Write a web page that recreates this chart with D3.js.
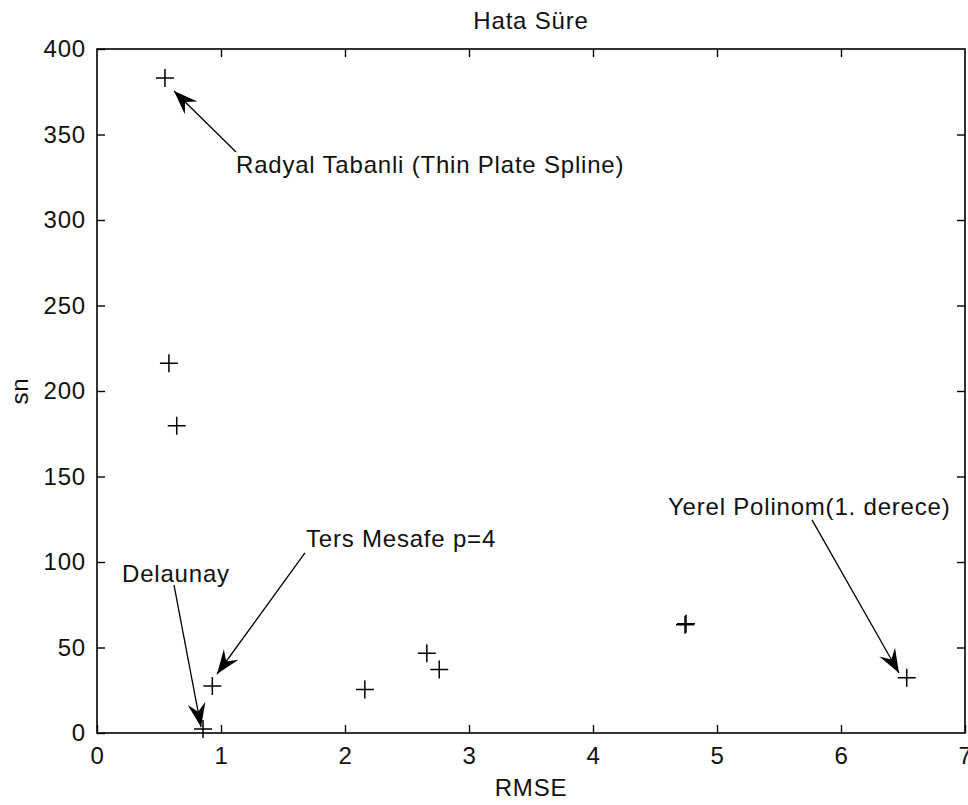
<!DOCTYPE html>
<html>
<head>
<meta charset="utf-8">
<script src="https://cdn.jsdelivr.net/npm/d3@7"></script>
<style>
  body { margin: 0; background: #fff; }
  svg text { font-family: "Liberation Sans", Arial, sans-serif; font-size: 24px; letter-spacing: 0.8px; fill: #111; }
</style>
</head>
<body>
<svg id="vis-canvas" width="968" height="805"></svg>
<script>
// data
const rmse = [0.548, 0.58, 0.643, 0.855, 0.93, 2.16, 2.66, 2.76, 4.742, 4.750, 6.53];
const sure = [383, 216.2, 179.7, 2.3, 27.5, 25.5, 46.6, 37.2, 63.3, 63.9, 32.3];

const xTicks = [0, 1, 2, 3, 4, 5, 6, 7];
const yTicks = [0, 50, 100, 150, 200, 250, 300, 350, 400];

// annotations: label, text anchor (data units), arrow start and tip (data units)
const noteLabels = ["Radyal Tabanli (Thin Plate Spline)", "Delaunay", "Ters Mesafe p=4", "Yerel Polinom(1. derece)"];
const noteText  = [[1.121, 327.5], [0.202, 88.3], [1.685, 108.8], [4.605, 127.5]];
const noteFrom  = [[1.121, 339.8], [0.621, 86.5], [1.677, 105.3], [5.766, 124.6]];
const noteTip   = [[0.621, 375.4], [0.839, 3.5], [0.968, 34.5], [6.468, 35.1]];

const title = "Hata Süre";
const xLabel = "RMSE";
const yLabel = "sn";

const svg = d3.select("svg");
const margin = {top: 49, right: 3, bottom: 72, left: 97};
const width = 968, height = 805;

let x = d3.scaleLinear().domain([0, 7]).range([margin.left, width - margin.right]);
let y = d3.scaleLinear().domain([0, 400]).range([height - margin.bottom, margin.top]);

// box
svg.append("rect")
   .attr("x", x(0)).attr("y", y(400))
   .attr("width", x(7) - x(0)).attr("height", y(0) - y(400))
   .attr("fill", "none").attr("stroke", "#000").attr("stroke-width", 1.6);

function styleAxis(g){
  g.select(".domain").remove();
  g.selectAll(".tick line").attr("stroke", "#000").attr("stroke-width", 1.4);
  g.selectAll("text").attr("fill", "#111").attr("font-size", null).attr("font-family", null);
}

svg.append("g")
   .attr("transform", "translate(0," + y(0) + ")")
   .call(d3.axisBottom(x).tickValues(xTicks).tickFormat(d3.format("d")).tickSizeInner(-8).tickSizeOuter(0).tickPadding(14))
   .call(styleAxis);

svg.append("g")
   .attr("transform", "translate(0," + y(400) + ")")
   .call(d3.axisTop(x).tickValues(xTicks.slice(1, -1)).tickFormat("").tickSizeInner(-8).tickSizeOuter(0))
   .call(styleAxis);

svg.append("g")
   .attr("transform", "translate(" + x(0) + ",0)")
   .call(d3.axisLeft(y).tickValues(yTicks).tickFormat(d3.format("d")).tickSizeInner(-8).tickSizeOuter(0).tickPadding(11))
   .call(styleAxis);

svg.append("g")
   .attr("transform", "translate(" + x(7) + ",0)")
   .call(d3.axisRight(y).tickValues(yTicks.slice(1, -1)).tickFormat("").tickSizeInner(-8).tickSizeOuter(0))
   .call(styleAxis);

// labels
svg.append("text")
   .attr("x", (x(0) + x(7)) / 2).attr("y", 29)
   .attr("text-anchor", "middle").text(title);

svg.append("text")
   .attr("x", (x(0) + x(7)) / 2).attr("y", 796)
   .attr("text-anchor", "middle").text(xLabel);

svg.append("text")
   .attr("transform", "translate(28," + (y(0) + y(400)) / 2 + ") rotate(-90)")
   .attr("text-anchor", "middle").text(yLabel);

// plus markers
svg.selectAll("path.pt")
   .data(rmse.map((d, i) => [d, sure[i]]))
   .enter().append("path")
   .attr("class", "pt")
   .attr("d", "M-9,0H9M0,-9V9")
   .attr("transform", d => "translate(" + x(d[0]) + "," + y(d[1]) + ")")
   .attr("stroke", "#000").attr("stroke-width", 1.5).attr("fill", "none");

// annotations
const notes = noteLabels.map((t, i) => ({label: t, text: noteText[i], from: noteFrom[i], tip: noteTip[i]}));

svg.selectAll("line.arrow")
   .data(notes)
   .enter().append("line")
   .attr("class", "arrow")
   .attr("x1", d => x(d.from[0])).attr("y1", d => y(d.from[1]))
   .attr("x2", d => x(d.tip[0])).attr("y2", d => y(d.tip[1]))
   .attr("stroke", "#000").attr("stroke-width", 1.3);

const headLen = 24, headW = 9;
svg.selectAll("path.head")
   .data(notes)
   .enter().append("path")
   .attr("class", "head")
   .attr("d", "M0,0L" + (-headLen) + "," + headW + "L" + (-headLen * 0.65) + ",0L" + (-headLen) + "," + (-headW) + "Z")
   .attr("transform", function(d){
     let tx = x(d.tip[0]), ty = y(d.tip[1]);
     let ang = Math.atan2(ty - y(d.from[1]), tx - x(d.from[0])) * 180 / Math.PI;
     return "translate(" + tx + "," + ty + ") rotate(" + ang + ")";
   })
   .attr("fill", "#000");

svg.selectAll("text.note")
   .data(notes)
   .enter().append("text")
   .attr("class", "note")
   .attr("x", d => x(d.text[0])).attr("y", d => y(d.text[1]))
   .text(d => d.label);
</script>
</body>
</html>
